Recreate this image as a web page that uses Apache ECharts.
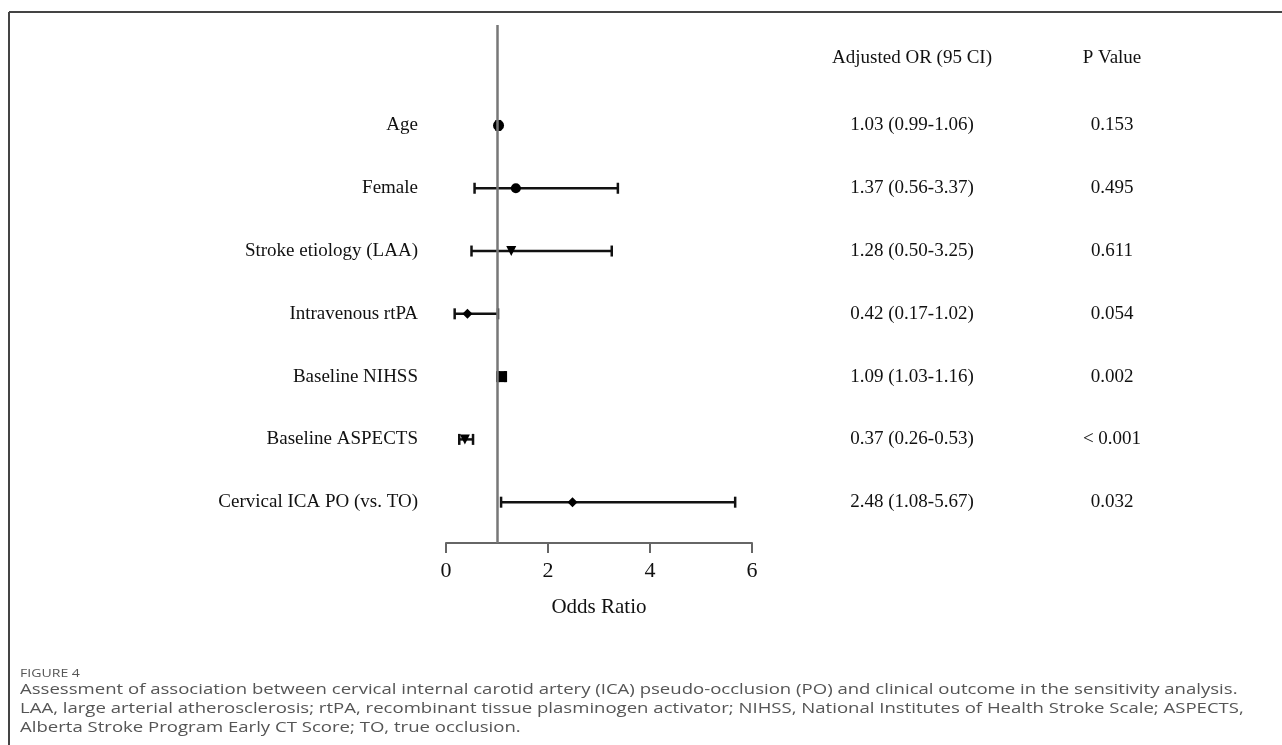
<!DOCTYPE html>
<html>
<head>
<meta charset="utf-8">
<title>Figure 4</title>
<script src="https://cdn.jsdelivr.net/npm/echarts@6/dist/echarts.min.js"></script>
<style>
  html, body { margin: 0; padding: 0; background: #fff; }
  #chart { width: 1282px; height: 745px; }
</style>
</head>
<body>
<div id="chart"></div>
<script>
// 数据 - 每一行一个变量
const categories = ['Age', 'Female', 'Stroke etiology (LAA)', 'Intravenous rtPA', 'Baseline NIHSS', 'Baseline ASPECTS', 'Cervical ICA PO (vs. TO)'];
const oddsRatio = [1.03, 1.37, 1.28, 0.42, 1.09, 0.37, 2.48];
const ciLow = [0.99, 0.56, 0.50, 0.17, 1.03, 0.26, 1.08];
const ciHigh = [1.06, 3.37, 3.25, 1.02, 1.16, 0.53, 5.67];
const pValues = ['0.153', '0.495', '0.611', '0.054', '0.002', '< 0.001', '0.032'];
const markers = ['circle', 'circle', 'triangle', 'diamond', 'square', 'triangle', 'diamond'];
const xTicks = [0, 2, 4, 6];

const serif = '"Liberation Serif", "Times New Roman", serif';
const headerRow = -1.07; // 表头所在的行(在第一行之上)

const rows = categories.map((c, i) => [oddsRatio[i], ciLow[i], ciHigh[i], i, markers[i]]);
const orText = oddsRatio.map((v, i) => `${v.toFixed(2)} (${ciLow[i].toFixed(2)}-${ciHigh[i].toFixed(2)})`);

// 误差线 + 标记
function renderItem(params, api) {
  const i = api.value(3);
  const mid = api.coord([api.value(0), i]);
  const lo = api.coord([api.value(1), i]);
  const hi = api.coord([api.value(2), i]);
  const y = mid[1], x = mid[0];
  const stroke = { stroke: '#111', lineWidth: 2.5 };
  const cap = 5.5;
  const kids = [
    { type: 'line', shape: { x1: lo[0], y1: y, x2: hi[0], y2: y }, style: stroke },
    { type: 'line', shape: { x1: lo[0], y1: y - cap, x2: lo[0], y2: y + cap }, style: stroke },
    { type: 'line', shape: { x1: hi[0], y1: y - cap, x2: hi[0], y2: y + cap }, style: stroke }
  ];
  const shape = markers[i];
  const fill = { fill: '#000' };
  if (shape === 'circle') {
    kids.push({ type: 'circle', shape: { cx: x, cy: y, r: i === 0 ? 5.5 : 5 }, style: fill });
  } else if (shape === 'triangle') {
    kids.push({ type: 'polygon', shape: { points: [[x - 5, y - 5], [x + 5, y - 5], [x, y + 5]] }, style: fill });
  } else if (shape === 'diamond') {
    kids.push({ type: 'polygon', shape: { points: [[x, y - 5], [x + 5, y], [x, y + 5], [x - 5, y]] }, style: fill });
  } else {
    kids.push({ type: 'rect', shape: { x: x - 5.5, y: y - 5.5, width: 11, height: 11 }, style: fill });
  }
  return { type: 'group', children: kids };
}

const caption = [
  'Assessment of association between cervical internal carotid artery (ICA) pseudo-occlusion (PO) and clinical outcome in the sensitivity analysis.',
  'LAA, large arterial atherosclerosis; rtPA, recombinant tissue plasminogen activator; NIHSS, National Institutes of Health Stroke Scale; ASPECTS,',
  'Alberta Stroke Program Early CT Score; TO, true occlusion.'
];

const option = {
  backgroundColor: '#fff',
  animation: false,
  grid: { left: 446, right: 530, top: 25, bottom: 202 },
  xAxis: {
    type: 'value', min: 0, max: 6, interval: 2,
    name: 'Odds Ratio', nameLocation: 'middle', nameGap: 54,
    nameTextStyle: { fontFamily: serif, fontSize: 21, color: '#111' },
    axisLine: { show: true, onZero: false, lineStyle: { color: '#666', width: 2 } },
    axisTick: { show: true, length: 10, lineStyle: { color: '#666', width: 2 } },
    axisLabel: { fontFamily: serif, fontSize: 22, color: '#111', margin: 17,
      customValues: xTicks },
    splitLine: { show: false }
  },
  yAxis: [{
    type: 'value', inverse: true, min: -1.6, max: 6.65,
    axisLine: { show: false }, axisTick: { show: false }, splitLine: { show: false },
    axisLabel: {
      customValues: categories.map((c, i) => i),
      formatter: v => categories[Math.round(v)],
      fontFamily: serif, fontSize: 19, color: '#111', margin: 28
    }
  }, {
    type: 'value', inverse: true, min: -1.6, max: 6.65, position: 'right',
    axisLine: { show: false }, axisTick: { show: false }, splitLine: { show: false },
    axisLabel: {
      customValues: [headerRow].concat(categories.map((c, i) => i)),
      formatter: v => v < -0.5
        ? '{a|Adjusted OR (95 CI)}{b|P Value}'
        : `{a|${orText[Math.round(v)]}}{b|${pValues[Math.round(v)]}}`,
      margin: 80,
      rich: {
        a: { width: 160, align: 'center', fontFamily: serif, fontSize: 19, color: '#111' },
        b: { width: 240, align: 'center', fontFamily: serif, fontSize: 19, color: '#111' }
      }
    }
  }],
  series: [{
    type: 'custom',
    renderItem: renderItem,
    data: rows,
    encode: { x: [0, 1, 2], y: 3 },
    clip: false,
    markLine: {
      silent: true, symbol: 'none', label: { show: false },
      lineStyle: { color: '#777', width: 2.5, type: 'solid' },
      data: [{ xAxis: 1 }]
    }
  }],
  graphic: [
    { type: 'line', shape: { x1: 9, y1: 12, x2: 1282, y2: 12 }, style: { stroke: '#444', lineWidth: 2 } },
    { type: 'line', shape: { x1: 9, y1: 12, x2: 9, y2: 745 }, style: { stroke: '#444', lineWidth: 2 } },
    // 图注(原图横向被拉伸过, 所以用 scaleX)
    { type: 'text', x: 20, y: 668, scaleX: 1.28, style: { text: 'FIGURE 4',
      fontFamily: '"Open Sans", sans-serif', fontSize: 11, fill: '#555' } },
    { type: 'text', x: 20, y: 680, scaleX: 1.28, style: { text: caption.join('\n'), lineHeight: 19,
      fontFamily: '"Open Sans", sans-serif', fontSize: 14.5, fill: '#555' } }
  ]
};

const myChart = echarts.init(document.getElementById('chart'));
myChart.setOption(option);
window.addEventListener('resize', function () { myChart.resize(); });
</script>
</body>
</html>
